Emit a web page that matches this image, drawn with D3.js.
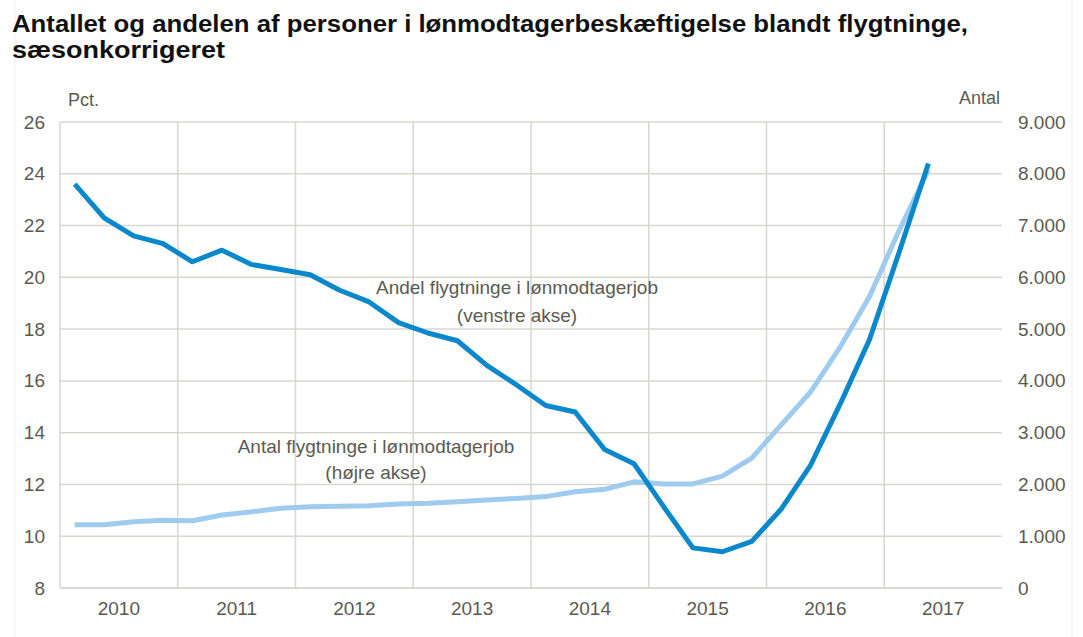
<!DOCTYPE html>
<html>
<head>
<meta charset="utf-8">
<script src="https://cdn.jsdelivr.net/npm/d3@7"></script>
<style>
  body { margin: 0; background: #fff; }
  text { font-family: "Liberation Sans", Arial, sans-serif; }
</style>
</head>
<body>
<div id="chart"></div>
<script>
var svgWidth = 1083;
var svgHeight = 637;

var margin = { top: 122, right: 81, bottom: 49, left: 60 };
var chartWidth = svgWidth - margin.left - margin.right;
var chartHeight = svgHeight - margin.top - margin.bottom;

// Years on the x axis, quarterly observations from 2010K1
var years = ["2010", "2011", "2012", "2013", "2014", "2015", "2016", "2017"];
var quarters = ["2010K1","2010K2","2010K3","2010K4","2011K1","2011K2","2011K3","2011K4",
  "2012K1","2012K2","2012K3","2012K4","2013K1","2013K2","2013K3","2013K4",
  "2014K1","2014K2","2014K3","2014K4","2015K1","2015K2","2015K3","2015K4",
  "2016K1","2016K2","2016K3","2016K4","2017K1","2017K2"];

// Andel flygtninge i lønmodtagerjob (pct., venstre akse)
var andel = [23.6, 22.3, 21.6, 21.3, 20.6, 21.05, 20.5, 20.3, 20.1, 19.5, 19.05, 18.25,
  17.85, 17.55, 16.6, 15.85, 15.05, 14.8, 13.35, 12.8, 11.15, 9.55, 9.4, 9.8,
  11.05, 12.75, 15.1, 17.6, 20.95, 24.4];

// Antal flygtninge i lønmodtagerjob (højre akse)
var antal = [1220, 1220, 1280, 1310, 1300, 1410, 1470, 1540, 1570, 1580, 1590, 1620,
  1635, 1665, 1700, 1730, 1765, 1860, 1905, 2050, 2010, 2010, 2160, 2510,
  3150, 3790, 4650, 5630, 6900, 8070];

var leftTicks = [8, 10, 12, 14, 16, 18, 20, 22, 24, 26];
var rightTicks = [0, 1000, 2000, 3000, 4000, 5000, 6000, 7000, 8000, 9000];

var textColor = "#5b5a52";
var gridColor = "#d8d7cf";

var svg = d3.select("#chart")
  .append("svg")
  .attr("width", svgWidth)
  .attr("height", svgHeight);

// faint frame of the original picture
svg.append("line").attr("x1", 15).attr("x2", 15).attr("y1", 0).attr("y2", svgHeight)
  .attr("stroke", "#eeeeee");
svg.append("line").attr("x1", 1072).attr("x2", 1072).attr("y1", 0).attr("y2", svgHeight)
  .attr("stroke", "#eeeeee");

// Title (the original is a little wide, so the lines are stretched to its width)
var title = svg.append("text")
  .style("font-size", "23px")
  .style("font-weight", "bold")
  .attr("fill", "#111");
title.append("tspan").attr("x", 12).attr("y", 32)
  .attr("textLength", 956).attr("lengthAdjust", "spacingAndGlyphs")
  .text("Antallet og andelen af personer i lønmodtagerbeskæftigelse blandt flygtninge,");
title.append("tspan").attr("x", 12).attr("y", 58)
  .attr("textLength", 213).attr("lengthAdjust", "spacingAndGlyphs")
  .text("sæsonkorrigeret");

var chartGroup = svg.append("g")
  .attr("transform", `translate(${margin.left}, ${margin.top})`);

// scales
var xYear = d3.scaleBand()
  .domain(years)
  .range([0, chartWidth]);

var xQuarter = d3.scaleBand()
  .domain(d3.range(years.length * 4))
  .range([0, chartWidth]);

var yLeft = d3.scaleLinear()
  .domain([8, 26])
  .range([chartHeight, 0]);

var yRight = d3.scaleLinear()
  .domain([0, 9000])
  .range([chartHeight, 0]);

// horizontal gridlines
chartGroup.append("g")
  .selectAll("line")
  .data(leftTicks)
  .enter()
  .append("line")
  .attr("x1", 0)
  .attr("x2", chartWidth)
  .attr("y1", d => yLeft(d))
  .attr("y2", d => yLeft(d))
  .attr("stroke", gridColor)
  .attr("stroke-width", 1.5);

// vertical gridlines between years
chartGroup.append("g")
  .selectAll("line")
  .data(years.slice(1))
  .enter()
  .append("line")
  .attr("x1", d => xYear(d))
  .attr("x2", d => xYear(d))
  .attr("y1", 0)
  .attr("y2", chartHeight)
  .attr("stroke", gridColor)
  .attr("stroke-width", 1.5);

// left axis line
chartGroup.append("line")
  .attr("x1", 0).attr("x2", 0)
  .attr("y1", 0).attr("y2", chartHeight)
  .attr("stroke", gridColor)
  .attr("stroke-width", 1.5);

// Axes
var leftAxis = d3.axisLeft(yLeft).tickValues(leftTicks).tickSize(0).tickPadding(15);
var rightAxis = d3.axisRight(yRight).tickValues(rightTicks).tickSize(0).tickPadding(16)
  .tickFormat(d => d3.format(",")(d).replace(/,/g, "."));
var bottomAxis = d3.axisBottom(xYear).tickSize(0).tickPadding(14);

var gLeft = chartGroup.append("g").call(leftAxis);
var gRight = chartGroup.append("g")
  .attr("transform", `translate(${chartWidth}, 0)`)
  .call(rightAxis);
var gBottom = chartGroup.append("g")
  .attr("transform", `translate(0, ${chartHeight})`)
  .call(bottomAxis);

[gLeft, gRight, gBottom].forEach(function(g) {
  g.select(".domain").remove();
  g.selectAll("text")
    .attr("fill", textColor)
    .style("font-size", "19px")
    .style("font-family", "'Liberation Sans', Arial, sans-serif");
});
gBottom.selectAll("text").attr("dy", "0.71em");

// bottom axis line
chartGroup.append("line")
  .attr("x1", 0).attr("x2", chartWidth)
  .attr("y1", chartHeight).attr("y2", chartHeight)
  .attr("stroke", gridColor)
  .attr("stroke-width", 1.5);

// axis unit labels
svg.append("text")
  .attr("x", 68).attr("y", 106)
  .attr("fill", textColor)
  .style("font-size", "18px")
  .text("Pct.");
svg.append("text")
  .attr("x", 1000).attr("y", 104)
  .attr("text-anchor", "end")
  .attr("fill", textColor)
  .style("font-size", "18px")
  .text("Antal");

var xPos = (d, i) => xQuarter(i) + xQuarter.bandwidth() / 2;

// light line: antal (right axis)
var lineAntal = d3.line()
  .x(xPos)
  .y(d => yRight(d));

chartGroup.append("path")
  .datum(antal)
  .attr("fill", "none")
  .attr("stroke", "#9fcbef")
  .attr("stroke-width", 5)
  .attr("stroke-linejoin", "round")
  .attr("d", lineAntal);

// dark line: andel (left axis)
var lineAndel = d3.line()
  .x(xPos)
  .y(d => yLeft(d));

chartGroup.append("path")
  .datum(andel)
  .attr("fill", "none")
  .attr("stroke", "#0b88cc")
  .attr("stroke-width", 5)
  .attr("stroke-linejoin", "round")
  .attr("d", lineAndel);

// annotations
var note1 = svg.append("text")
  .attr("text-anchor", "middle")
  .attr("fill", textColor)
  .style("font-size", "19px");
note1.append("tspan").attr("x", 517).attr("y", 294).text("Andel flygtninge i lønmodtagerjob");
note1.append("tspan").attr("x", 517).attr("y", 322).text("(venstre akse)");

var note2 = svg.append("text")
  .attr("text-anchor", "middle")
  .attr("fill", textColor)
  .style("font-size", "19px");
note2.append("tspan").attr("x", 376).attr("y", 453).text("Antal flygtninge i lønmodtagerjob");
note2.append("tspan").attr("x", 376).attr("y", 479).text("(højre akse)");
</script>
</body>
</html>
